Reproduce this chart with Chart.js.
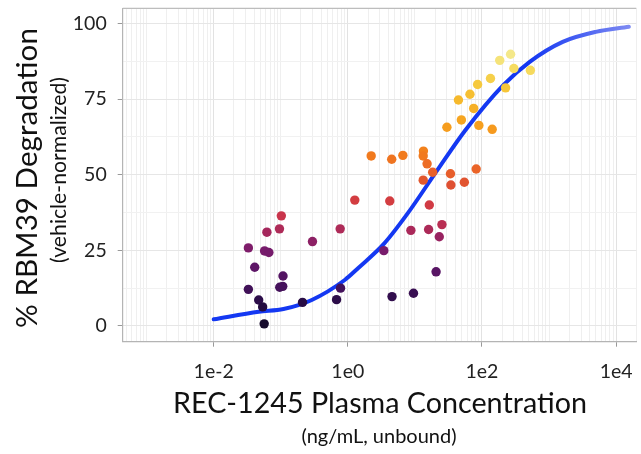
<!DOCTYPE html>
<html>
<head>
<meta charset="utf-8">
<script src="https://cdn.jsdelivr.net/npm/chart.js@4.4.1/dist/chart.umd.min.js"></script>
<style>
  html, body { margin: 0; padding: 0; background: #fff; }
  #wrap { width: 641px; height: 454px; }
</style>
</head>
<body>
<div id="wrap"><canvas id="chart" width="641" height="454"></canvas></div>
<script>
// Observed samples: unbound plasma concentration (ng/mL) vs % RBM39 degradation
const concentration = [
  0.102, 0.0957, 0.0621, 0.0329, 0.0574, 0.0665, 0.0409, 0.108, 0.0329, 0.0966,
  0.107, 0.0469, 0.0537, 0.0566, 0.297, 0.211, 0.769, 0.679, 0.778, 2.23,
  4.51, 6.62, 1.27, 4.22, 8.71, 3.44, 4.56, 9.53, 13.4, 13.3,
  15.2, 18.4, 13.3, 33.9, 34.4, 54.6, 82.0, 142, 16.4, 16.0,
  25.3, 23.1, 20.7, 30.0, 49.3, 89.9, 75.2, 44.6, 66.2, 86.1,
  134, 225, 184, 267, 527, 299
];
const degradation = [
  36.4, 32.1, 31.0, 25.8, 24.8, 24.3, 19.4, 16.5, 12.1, 12.8,
  13.1, 8.6, 6.3, 0.7, 27.9, 7.8, 32.1, 8.7, 12.5, 56.2,
  55.1, 56.4, 41.6, 41.3, 31.6, 24.9, 9.7, 10.8, 57.8, 56.2,
  53.6, 50.8, 48.2, 50.3, 46.6, 47.5, 51.9, 65.0, 40.0, 31.9,
  33.5, 29.5, 17.9, 65.7, 68.1, 66.3, 71.9, 74.7, 76.6, 79.8,
  81.8, 78.7, 87.8, 89.8, 84.5, 85.1
];

// Fitted exposure-response curve
const fitConc = [0.01, 0.047, 0.11, 0.29, 0.9, 1.42, 3.5, 7.8, 21.6, 56.5, 208, 515, 1600, 4980, 15500];
const fitDegradation = [2.2, 4.7, 5.6, 8.6, 15.2, 19.1, 27.3, 37.2, 51.5, 64.7, 79.6, 87.3, 93.9, 97.2, 98.9];

// Axis ticks
const xTickValues = [1e-2, 1e0, 1e2, 1e4];
const xTickLabels = ['1e-2', '1e0', '1e2', '1e4'];
const yTickValues = [0, 25, 50, 75, 100];

// inferno-like colour ramp keyed on degradation
const colorStops = [
  [0, [20, 10, 42]], [8, [40, 12, 70]], [13, [70, 18, 92]], [20, [96, 22, 104]],
  [25, [120, 28, 108]], [30, [156, 36, 96]], [33, [182, 46, 84]], [37, [204, 54, 74]],
  [42, [212, 62, 64]], [48, [226, 86, 46]], [52, [234, 100, 40]], [57, [242, 126, 28]],
  [66, [246, 158, 30]], [75, [246, 186, 44]], [80, [246, 202, 62]], [85, [246, 220, 96]],
  [90, [244, 232, 140]]
];
function rampColor(v) {
  if (v <= colorStops[0][0]) return `rgb(${colorStops[0][1].join(',')})`;
  for (let i = 1; i < colorStops.length; i++) {
    const [v1, c1] = colorStops[i];
    const [v0, c0] = colorStops[i - 1];
    if (v <= v1) {
      const t = (v - v0) / (v1 - v0);
      const c = c0.map((a, k) => Math.round(a + (c1[k] - a) * t));
      return `rgb(${c.join(',')})`;
    }
  }
  return `rgb(${colorStops[colorStops.length - 1][1].join(',')})`;
}

const isMajorX = v => xTickValues.some(t => Math.abs(Math.log10(v) - Math.log10(t)) < 1e-9);
const isMajorY = v => yTickValues.includes(v);

const FONT = 'Lato, "Open Sans", sans-serif';

function fitSize(ctx, text, width) {
  ctx.font = `100px ${FONT}`;
  return 100 * width / ctx.measureText(text).width;
}

// frame line on top + two-line axis titles
const frameAndTitles = {
  id: 'frameAndTitles',
  afterDraw(chart) {
    const { ctx, chartArea } = chart;
    ctx.save();
    ctx.strokeStyle = '#bdbdbd';
    ctx.lineWidth = 1.2;
    ctx.beginPath();
    ctx.moveTo(chartArea.left, chartArea.top);
    ctx.lineTo(chartArea.right, chartArea.top);
    ctx.stroke();

    ctx.fillStyle = '#111';
    ctx.textAlign = 'center';
    ctx.textBaseline = 'alphabetic';

    let s = fitSize(ctx, 'REC-1245 Plasma Concentration', 414);
    ctx.font = `${s}px ${FONT}`;
    ctx.fillText('REC-1245 Plasma Concentration', 380, 413);

    ctx.font = `20px ${FONT}`;
    ctx.fillText('(ng/mL, unbound)', 379, 443);

    ctx.save();
    ctx.translate(37, 178);
    ctx.rotate(-Math.PI / 2);
    s = fitSize(ctx, '% RBM39 Degradation', 300);
    ctx.font = `${s}px ${FONT}`;
    ctx.fillText('% RBM39 Degradation', 0, 0);
    ctx.restore();

    ctx.save();
    ctx.translate(66, 170);
    ctx.rotate(-Math.PI / 2);
    s = fitSize(ctx, '(vehicle-normalized)', 186);
    ctx.font = `${s}px ${FONT}`;
    ctx.fillText('(vehicle-normalized)', 0, 0);
    ctx.restore();
    ctx.restore();
  }
};

const ctx = document.getElementById('chart').getContext('2d');
new Chart(ctx, {
  data: {
    datasets: [
      {
        type: 'scatter',
        data: concentration.map((x, i) => ({ x, y: degradation[i] })),
        pointRadius: 4.7,
        pointBorderWidth: 0,
        pointBackgroundColor: degradation.map(v => rampColor(v))
      },
      {
        type: 'line',
        data: fitConc.map((x, i) => ({ x, y: fitDegradation[i] })),
        pointRadius: 0,
        borderWidth: 4,
        borderCapStyle: 'round',
        cubicInterpolationMode: 'monotone',
        borderColor: function(context) {
          const { ctx, chartArea } = context.chart;
          if (!chartArea) return '#1438f2';
          const g = ctx.createLinearGradient(530, 0, chartArea.right, 0);
          g.addColorStop(0, '#1438f2');
          g.addColorStop(1, '#8590f2');
          return g;
        }
      }
    ]
  },
  options: {
    responsive: false,
    animation: false,
    devicePixelRatio: 1,
    layout: { padding: { top: 8.3, left: 0, right: 0, bottom: 0 } },
    plugins: {
      legend: { display: false },
      tooltip: { enabled: false }
    },
    scales: {
      x: {
        type: 'logarithmic',
        min: 4.4e-4,
        max: 2.0e4,
        afterBuildTicks: scale => {
          const ticks = [];
          for (let e = -4; e <= 4; e++) {
            for (let k = 1; k <= 9; k++) {
              const v = k * Math.pow(10, e);
              if (v >= scale.min && v <= scale.max) ticks.push({ value: v });
            }
          }
          scale.ticks = ticks;
        },
        afterFit: scale => {
          scale.height = 112.3;
          scale.paddingLeft = 0;
          scale.paddingRight = 0;
        },
        ticks: {
          autoSkip: false,
          maxRotation: 0,
          minRotation: 0,
          padding: 13,
          color: '#222',
          font: { family: FONT, size: 19.5 },
          callback: value => {
            const i = xTickValues.findIndex(t => Math.abs(Math.log10(value) - Math.log10(t)) < 1e-9);
            return i >= 0 ? xTickLabels[i] : '';
          }
        },
        grid: {
          color: c => (c.tick && isMajorX(c.tick.value)) ? '#e2e2e2' : '#efefef',
          tickColor: c => (c.tick && isMajorX(c.tick.value)) ? '#999' : 'rgba(0,0,0,0)',
          tickLength: 5,
          lineWidth: 1
        },
        border: { color: '#b4b4b4', width: 1.2 }
      },
      y: {
        type: 'linear',
        min: -5.2,
        max: 105,
        afterBuildTicks: scale => {
          const ticks = [];
          for (let v = 0; v <= 100; v += 12.5) ticks.push({ value: v });
          scale.ticks = ticks;
        },
        afterFit: scale => {
          scale.width = 122.7;
          scale.paddingTop = 0;
          scale.paddingBottom = 0;
        },
        ticks: {
          autoSkip: false,
          padding: 11,
          color: '#222',
          font: { family: FONT, size: 19.5 },
          callback: value => isMajorY(value) ? String(value) : ''
        },
        grid: {
          color: c => (c.tick && isMajorY(c.tick.value)) ? '#e6e6e6' : '#f1f1f1',
          tickColor: c => (c.tick && isMajorY(c.tick.value)) ? '#999' : 'rgba(0,0,0,0)',
          tickLength: 5,
          lineWidth: 1
        },
        border: { color: '#b4b4b4', width: 1.2 }
      }
    }
  },
  plugins: [frameAndTitles]
});
</script>
</body>
</html>
